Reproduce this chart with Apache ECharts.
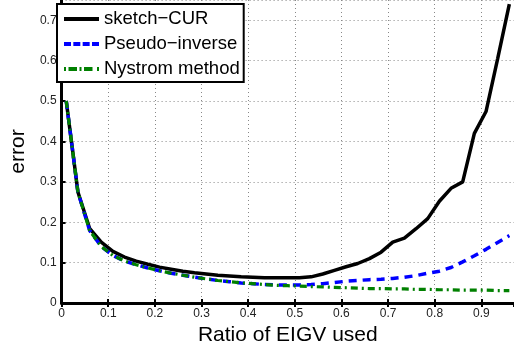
<!DOCTYPE html>
<html>
<head>
<meta charset="utf-8">
<script src="https://cdn.jsdelivr.net/npm/echarts@6/dist/echarts.min.js"></script>
<style>
  html, body { margin: 0; padding: 0; background: #fff; }
  #chart { width: 514px; height: 351px; }
</style>
</head>
<body>
<div id="chart"></div>
<script>
// ratio of eigenvectors used
const ratios = [
  0.01, 0.035, 0.06, 0.085, 0.11, 0.135, 0.16, 0.185, 0.21, 0.235,
  0.26, 0.285, 0.31, 0.335, 0.36, 0.385, 0.41, 0.435, 0.46, 0.485,
  0.51, 0.535, 0.56, 0.585, 0.61, 0.635, 0.66, 0.685, 0.71, 0.735,
  0.76, 0.785, 0.81, 0.835, 0.86, 0.885, 0.91, 0.935, 0.96,
]

const sketchCur = [
  0.5, 0.275, 0.185, 0.151, 0.128, 0.114, 0.104, 0.096, 0.089, 0.084,
  0.079, 0.075, 0.072, 0.069, 0.067, 0.065, 0.064, 0.063, 0.063, 0.063,
  0.063, 0.065, 0.072, 0.081, 0.090, 0.098, 0.110, 0.126, 0.151, 0.161,
  0.184, 0.209, 0.252, 0.284, 0.300, 0.420, 0.474, 0.605, 0.740,
]

const pseudoInverse = [
  0.5, 0.275, 0.180, 0.140, 0.118, 0.104, 0.095, 0.087, 0.080, 0.074,
  0.069, 0.064, 0.060, 0.056, 0.053, 0.050, 0.048, 0.046, 0.045, 0.045,
  0.045, 0.046, 0.048, 0.051, 0.054, 0.056, 0.058, 0.059, 0.061, 0.064,
  0.068, 0.074, 0.079, 0.088, 0.102, 0.117, 0.133, 0.150, 0.167,
]

const nystrom = [
  0.5, 0.275, 0.180, 0.140, 0.118, 0.104, 0.095, 0.087, 0.080, 0.074,
  0.069, 0.064, 0.060, 0.056, 0.053, 0.050, 0.048, 0.046, 0.044, 0.043,
  0.042, 0.041, 0.040, 0.039, 0.038, 0.037, 0.036, 0.036, 0.035, 0.035,
  0.034, 0.034, 0.033, 0.033, 0.032, 0.032, 0.032, 0.031, 0.031,
]

const FONT = '"Liberation Sans", Arial, Helvetica, sans-serif'

const pairs = (ys) => ratios.map((x, i) => [x, ys[i]])

// legend samples drawn as filled strips (solid, dashed, dash-dot)
const ICON_SOLID = 'path://M0,0H35V4H0Z'
const ICON_DASH = 'path://M0,0h7v4h-7z M9.33,0h7v4h-7z M18.66,0h7v4h-7z M28,0h7v4h-7z'
const ICON_DASHDOT = 'path://M0,0h2v4h-2z M4.5,0h8.5v4h-8.5z M15.5,0h2v4h-2z M20,0h8.5v4h-8.5z M33,0h2v4h-2z'

const chart = echarts.init(document.getElementById('chart'))

const gridLine = {
  show: true,
  lineStyle: { color: '#888', width: 1, type: [1, 3] },
}

chart.setOption({
  animation: false,
  backgroundColor: '#fff',
  grid: { left: 53, top: -2, width: 463.5, height: 307.5 },
  legend: {
    left: 57,
    top: 4,
    orient: 'vertical',
    backgroundColor: '#fff',
    borderColor: '#000',
    borderWidth: 2,
    padding: [5, 4, 3, 7],
    itemWidth: 35,
    itemHeight: 4,
    itemGap: 5,
    textStyle: { fontFamily: FONT, fontSize: 18.5, color: '#000', lineHeight: 20 },
    data: [
      { name: 'sketch−CUR', icon: ICON_SOLID },
      { name: 'Pseudo−inverse', icon: ICON_DASH },
      { name: 'Nystrom method', icon: ICON_DASHDOT },
    ],
  },
  xAxis: [
    {
      type: 'value',
      min: 0,
      max: 0.97,
      interval: 0.1,
      name: 'Ratio of EIGV used',
      nameLocation: 'middle',
      nameGap: 18,
      nameTextStyle: { fontFamily: FONT, fontSize: 21, color: '#000' },
      axisLine: { show: true, onZero: false, lineStyle: { color: '#000', width: 3 } },
      axisTick: { show: true, inside: true, length: 4, lineStyle: { color: '#000', width: 2 } },
      axisLabel: { fontFamily: FONT, fontSize: 12, color: '#222', margin: 5, showMaxLabel: false },
      splitLine: gridLine,
    },
    {
      type: 'value',
      position: 'top',
      min: 0,
      max: 0.97,
      interval: 0.1,
      axisLine: { show: false },
      axisTick: { show: true, inside: true, length: 4, lineStyle: { color: '#000', width: 2 } },
      axisLabel: { show: false },
      splitLine: { show: false },
    },
  ],
  yAxis: {
    type: 'value',
    min: 0,
    max: 0.75,
    interval: 0.1,
    name: 'error',
    nameLocation: 'middle',
    nameGap: 26,
    nameTextStyle: { fontFamily: FONT, fontSize: 21, color: '#000' },
    axisLine: { show: true, onZero: false, lineStyle: { color: '#000', width: 3 } },
    axisTick: { show: true, inside: true, length: 4, lineStyle: { color: '#000', width: 2 } },
    axisLabel: { fontFamily: FONT, fontSize: 12, color: '#222', margin: 5, showMaxLabel: false },
    splitLine: gridLine,
  },
  series: [
    {
      name: 'sketch−CUR',
      type: 'line',
      symbol: 'none',
      data: pairs(sketchCur),
      lineStyle: { color: '#000', width: 3.5 },
      itemStyle: { color: '#000' },
    },
    {
      name: 'Pseudo−inverse',
      type: 'line',
      symbol: 'none',
      data: pairs(pseudoInverse),
      lineStyle: { color: '#0000ff', width: 3.5, type: [8, 6], cap: 'butt' },
      itemStyle: { color: '#0000ff' },
    },
    {
      name: 'Nystrom method',
      type: 'line',
      symbol: 'none',
      data: pairs(nystrom),
      lineStyle: { color: '#008000', width: 3.2, type: [7, 4, 2, 4], cap: 'butt' },
      itemStyle: { color: '#008000' },
    },
  ],
})
</script>
</body>
</html>
